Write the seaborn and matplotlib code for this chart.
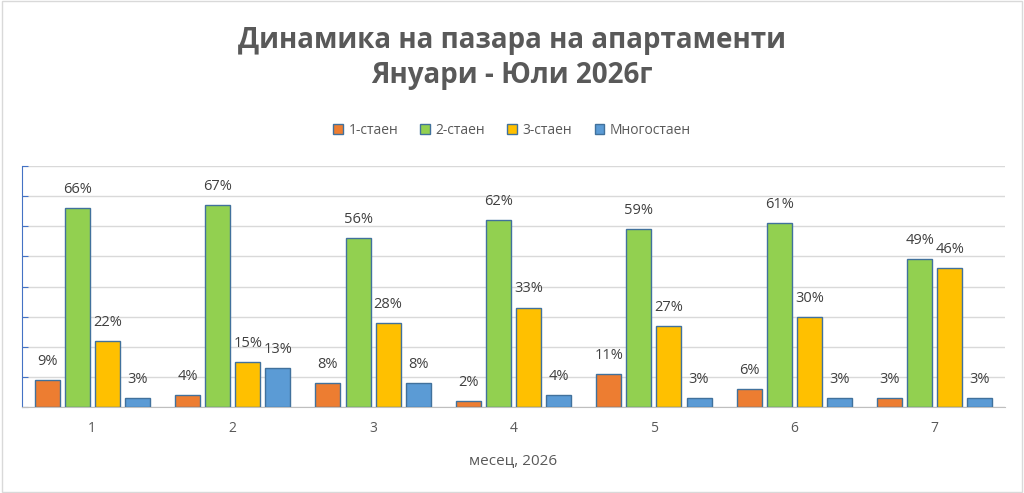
"""Apartment market dynamics by number of rooms, January - July 2026"""
import matplotlib
matplotlib.use("Agg")
import matplotlib.pyplot as plt
from matplotlib.patches import Rectangle
import seaborn as sns
import pandas as pd


MONTHS = ["1", "2", "3", "4", "5", "6", "7"]
ONE_ROOM = [9, 4, 8, 2, 11, 6, 3]
TWO_ROOM = [66, 67, 56, 62, 59, 61, 49]
THREE_ROOM = [22, 15, 28, 33, 27, 30, 46]
MULTI_ROOM = [3, 13, 8, 4, 3, 3, 3]
SERIES = ["1-стаен", "2-стаен", "3-стаен", "Многостаен"]
COLORS = ["#ED7D31", "#92D050", "#FFC000", "#5B9BD5"]


def build_frame():
    """Long-form table for seaborn"""
    rows = []
    for name, values in zip(SERIES, [ONE_ROOM, TWO_ROOM, THREE_ROOM, MULTI_ROOM]):
        for month, val in zip(MONTHS, values):
            rows.append({"month": month, "type": name, "share": val})
    return pd.DataFrame(rows)


def plot_market():
    df = build_frame()
    sns.set_style("white")
    plt.rcParams['font.family'] = ['Open Sans', 'DejaVu Sans']

    fig = plt.figure(figsize=(10.24, 4.93), dpi=100)
    ax = fig.add_axes([22 / 1024, 1 - 407 / 493, 983 / 1024, 241 / 493])

    sns.barplot(data=df, x="month", y="share", hue="type", palette=COLORS,
                saturation=1, width=0.857, gap=0.17, edgecolor="#41719C",
                linewidth=1.0, ax=ax, legend=True, zorder=3)

    for cont in ax.containers:
        ax.bar_label(cont, labels=[f"{int(v)}%" for v in cont.datavalues],
                     padding=8, fontsize=10.5, color="#404040")

    ax.set_xlim(-0.5, 6.5)
    ax.set_ylim(0, 80)
    ax.set_yticks(range(0, 90, 10))
    ax.set_yticklabels([])
    ax.yaxis.grid(True, color="#D9D9D9", linewidth=1, zorder=0)
    ax.tick_params(axis="y", direction="in", length=4, color="#4472C4", left=True)
    ax.tick_params(axis="x", length=0, labelsize=10, labelcolor="#595959", pad=10)
    ax.set_xlabel("месец, 2026", fontsize=11, color="#595959", labelpad=12)
    ax.set_ylabel("")

    for side in ["top", "right"]:
        ax.spines[side].set_visible(False)
    ax.spines["left"].set_color("#4472C4")
    ax.spines["bottom"].set_color("#BFBFBF")

    handles, labels = ax.get_legend_handles_labels()
    ax.get_legend().remove()
    fig.legend(handles, labels, loc="center", bbox_to_anchor=(0.5, 1 - 130 / 493),
               ncol=4, frameon=False, fontsize=10, handlelength=0.7,
               handleheight=0.7, columnspacing=1.6, handletextpad=0.4,
               labelcolor="#595959")

    fig.text(0.5, 1 - 58 / 493, "Динамика на пазара на апартаменти\nЯнуари - Юли 2026г",
             ha="center", va="center", fontsize=20, fontweight="bold",
             color="#595959", linespacing=1.3)

    fig.patches.append(Rectangle((0.002, 0.003), 0.996, 0.994, transform=fig.transFigure,
                                 fill=False, edgecolor="#D9D9D9", linewidth=1))

    fig.savefig("out.png", dpi=100)


if __name__ == "__main__":
    plot_market()
